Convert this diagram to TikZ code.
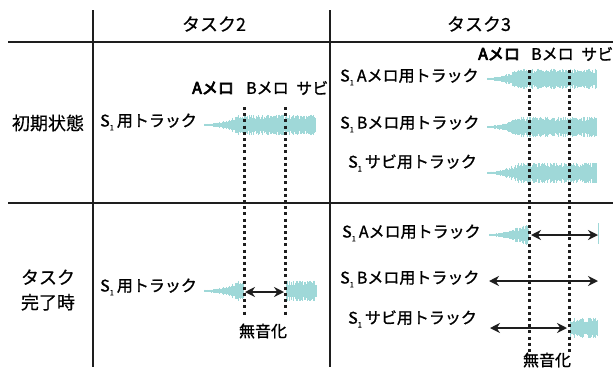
\documentclass[tikz,border=0pt]{standalone}
\usepackage{fontspec}
\setmainfont{Noto Sans CJK JP}[FakeBold=1.2]
\newfontfamily\semib{Noto Sans CJK JP}[FakeBold=4.5]
\newfontfamily\lightf{Noto Sans CJK JP}[FakeBold=0.4]
\usetikzlibrary{arrows.meta}
\definecolor{wavec}{HTML}{9FD8D8}
\definecolor{ink}{HTML}{1E1E1E}
\newcommand\Sone{S\raisebox{-0.45ex}{\fontsize{7.5}{7.5}\selectfont 1}\hspace{3pt}}
% #1 envelope start x, #2 y centre, #3 from x, #4 to x, #5 seed, #6 fade length
\newcommand\wavepart[6]{%
  \pgfmathsetseed{#5}%
  \pgfmathtruncatemacro\wn{((#4)-(#3))/0.6}%
  \foreach \i in {0,...,\wn}{%
    \pgfmathsetmacro\wx{#3+\i*0.6}%
    \pgfmathsetmacro\wt{min(1,max(0,(\wx-#1)/#6))}%
    \pgfmathsetmacro\wenv{1.2+8.8*\wt*\wt}%
    \pgfmathsetmacro\wh{\wenv*(0.55+0.5*rnd)}%
    \draw[wavec,line width=0.75pt] (\wx,#2-\wh) -- (\wx,#2+\wh);
  }}
\tikzset{
  grid/.style={draw=ink,line width=2.4pt},
  lbl/.style={inner sep=0pt,anchor=west,font=\fontsize{16}{19}\selectfont},
  ctr/.style={inner sep=0pt,font=\fontsize{16}{19}\selectfont},
  big/.style={inner sep=0pt,align=center,font=\lightf\fontsize{18}{25}\selectfont},
  dotl/.style={draw=ink,line width=3pt,dash pattern=on 3pt off 3.2pt},
  dbl/.style={draw=ink,line width=2.4pt,{Stealth[length=10pt,width=10pt]}-{Stealth[length=10pt,width=10pt]}}
}
\begin{document}
\begin{tikzpicture}[x=1pt,y=-1pt]
\useasboundingbox (0,0) rectangle (613,370);
% table
\coordinate (v1t) at (93,10); \coordinate (v1b) at (93,367);
\coordinate (v2t) at (330,10); \coordinate (v2b) at (330,367);
\coordinate (h1l) at (8,42); \coordinate (h1r) at (613,42);
\coordinate (h2l) at (8,203); \coordinate (h2r) at (613,203);
\draw[grid] (v1t) -- (v1b);
\draw[grid] (v2t) -- (v2b);
\draw[grid] (h1l) -- (h1r);
\draw[grid] (h2l) -- (h2r);
% headers
\node[big] (t2) at (214,24) {タスク2};
\node[big] (t3) at (479,24) {タスク3};
\node[big] (r1) at (48,123) {初期状態};
\node[big] (r2) at (48,290) {タスク\\完了時};
% waves
\wavepart{204}{125}{204}{316}{11}{34}
\wavepart{204}{291}{204}{243}{11}{34}
\wavepart{100}{291}{286}{316}{12}{34}
\wavepart{487}{79}{487}{597}{21}{32}
\wavepart{487}{127}{487}{597}{22}{32}
\wavepart{487}{173}{487}{597}{23}{32}
\wavepart{489}{235}{489}{528}{24}{34}
\wavepart{400}{328}{570}{598}{25}{32}
\draw[wavec,line width=1pt] (598.5,223) -- (598.5,244);
% dotted markers
\coordinate (d1t) at (244,107); \coordinate (d1b) at (244,316);
\coordinate (d2t) at (285,107); \coordinate (d2b) at (285,316);
\coordinate (d3t) at (529,70); \coordinate (d3b) at (529,355);
\coordinate (d4t) at (569,70); \coordinate (d4b) at (569,355);
\draw[dotl] (d1t) -- (d1b);
\draw[dotl] (d2t) -- (d2b);
\draw[dotl] (d3t) -- (d3b);
\draw[dotl] (d4t) -- (d4b);
% section labels
\node[lbl] (a2) at (192,88) {\semib Aメロ};
\node[lbl] (b2) at (246,88) {Bメロ};
\node[lbl] (s2) at (296,88) {サビ};
\node[lbl] (a3) at (478,54) {\semib Aメロ};
\node[lbl] (b3) at (531,54) {Bメロ};
\node[lbl] (s3) at (581,54) {サビ};
% track labels
\node[lbl] (k21) at (100,122) {\Sone 用トラック};
\node[lbl] (k22) at (100,287) {\Sone 用トラック};
\node[lbl] (k31) at (340,77) {\Sone Aメロ用トラック};
\node[lbl] (k32) at (340,124) {\Sone Bメロ用トラック};
\node[lbl] (k33) at (348,163) {\Sone サビ用トラック};
\node[lbl] (k34) at (342,233) {\Sone Aメロ用トラック};
\node[lbl] (k35) at (340,279) {\Sone Bメロ用トラック};
\node[lbl] (k36) at (348,319) {\Sone サビ用トラック};
\node[ctr] (m2) at (263,331) {無音化};
\node[ctr] (m3) at (547,360) {無音化};
% arrows
\coordinate (p1a) at (245,292); \coordinate (p1b) at (284,292);
\coordinate (p2a) at (531,235); \coordinate (p2b) at (598,235);
\coordinate (p3a) at (489,281); \coordinate (p3b) at (598,281);
\coordinate (p4a) at (490,328); \coordinate (p4b) at (567,328);
\draw[dbl] (p1a) -- (p1b);
\draw[dbl] (p2a) -- (p2b);
\draw[dbl] (p3a) -- (p3b);
\draw[dbl] (p4a) -- (p4b);
\end{tikzpicture}
\end{document}
